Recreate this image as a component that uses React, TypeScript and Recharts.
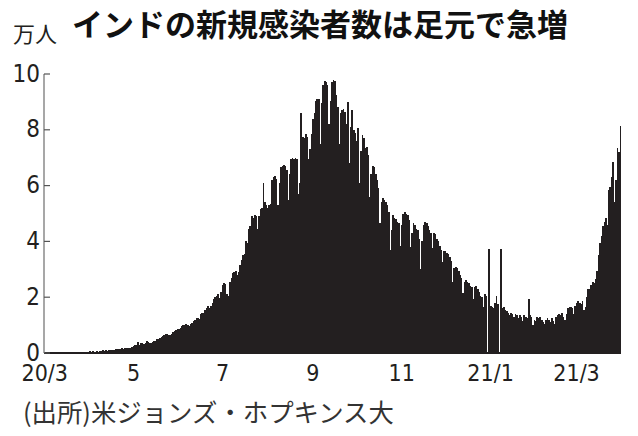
import { Bar, BarChart, XAxis, YAxis } from "recharts"

// 日別新規感染者数(万人) 2020/3/1〜2021/3/31
const mar20 = [0, 0, 0, 0, 0, 0, 0, 0, 0, 0, 0, 0, 0, 0, 0, 0, 0, 0, 0.01, 0.01, 0.01, 0.01, 0.01, 0.01, 0.01, 0.01, 0.02, 0.01, 0.01, 0.02, 0.03]
const apr20 = [0.06, 0.05, 0.06, 0.05, 0.05, 0.07, 0.05, 0.06, 0.06, 0.09, 0.08, 0.09, 0.08, 0.1, 0.1, 0.12, 0.1, 0.12, 0.15, 0.14, 0.16, 0.14, 0.17, 0.16, 0.19, 0.19, 0.17, 0.19, 0.19, 0.2]
const may20 = [0.24, 0.28, 0.27, 0.39, 0.3, 0.36, 0.36, 0.34, 0.35, 0.43, 0.38, 0.36, 0.37, 0.4, 0.42, 0.42, 0.5, 0.49, 0.52, 0.57, 0.62, 0.66, 0.68, 0.69, 0.66, 0.63, 0.69, 0.74, 0.79, 0.82, 0.85]
const jun20 = [0.86, 0.9, 0.96, 1.0, 1.02, 1.04, 1.0, 0.98, 1.05, 1.08, 1.15, 1.18, 1.26, 1.25, 1.22, 1.38, 1.45, 1.42, 1.55, 1.62, 1.68, 1.6, 1.7, 1.8, 1.95, 2.0, 2.05, 2.1, 1.98, 2.2]
const jul20 = [2.45, 2.5, 2.48, 2.1, 2.05, 2.55, 2.7, 2.85, 2.9, 2.95, 2.8, 2.9, 3.15, 3.35, 3.5, 3.55, 4.0, 3.95, 4.45, 4.55, 4.9, 4.85, 4.95, 4.9, 4.45, 4.9, 5.15, 5.2, 6.1, 5.4, 5.3]
const aug20 = [5.2, 5.3, 5.35, 6.2, 6.3, 6.35, 6.25, 5.3, 6.1, 6.65, 6.7, 6.75, 6.7, 6.55, 5.5, 6.4, 6.95, 7.0, 6.95, 7.0, 6.95, 5.7, 6.1, 8.6, 7.75, 7.7, 7.85, 7.75, 6.95, 7.3, 7.85]
const sep20 = [8.4, 8.6, 9.05, 9.1, 9.1, 7.5, 8.95, 9.6, 9.75, 9.7, 9.6, 8.2, 9.05, 9.7, 9.8, 9.75, 9.25, 8.8, 7.5, 8.6, 8.7, 8.75, 8.65, 8.2, 9.0, 6.8, 8.1, 8.7, 8.0, 7.9]
const oct20 = [7.6, 8.05, 6.1, 7.25, 7.8, 7.7, 7.35, 7.4, 7.1, 5.6, 6.4, 6.7, 6.65, 6.4, 6.2, 5.9, 4.65, 5.4, 5.55, 5.5, 5.4, 5.3, 5.05, 3.7, 4.4, 4.95, 4.85, 4.8, 4.7, 4.65, 3.85]
const nov20 = [4.6, 5.0, 5.05, 5.0, 4.95, 4.75, 3.8, 4.3, 4.65, 4.6, 4.45, 4.4, 4.1, 3.0, 4.0, 4.6, 4.7, 4.65, 4.55, 4.4, 4.3, 3.75, 4.3, 4.25, 4.1, 4.0, 3.85, 3.7, 3.25, 3.65]
const dec20 = [3.65, 3.6, 3.55, 3.45, 3.3, 2.55, 3.05, 3.1, 3.05, 2.95, 2.8, 2.7, 2.15, 2.55, 2.6, 2.55, 2.5, 2.4, 2.35, 1.95, 2.35, 2.4, 2.3, 2.2, 2.05, 2.0, 1.65, 2.1, 2.05, 0, 3.72]
const jan21 = [1.7, 1.65, 1.6, 1.8, 2.05, 1.75, 0, 3.72, 1.6, 1.65, 1.55, 1.5, 1.45, 1.35, 1.45, 1.4, 1.3, 1.4, 1.35, 1.25, 1.35, 1.3, 1.15, 1.35, 1.3, 1.25, 1.92, 1.35, 1.3, 1.0, 1.2]
const feb21 = [1.15, 1.3, 1.25, 1.3, 1.2, 1.1, 1.05, 1.2, 1.25, 1.2, 1.1, 1.25, 1.15, 1.05, 1.3, 1.35, 1.4, 1.35, 1.45, 1.3, 1.2, 1.4, 1.6, 1.65, 1.65, 1.6, 1.4, 1.7]
const mar21 = [1.8, 1.85, 1.8, 1.75, 1.85, 1.55, 1.65, 2.0, 2.3, 2.3, 2.45, 2.55, 2.5, 2.65, 2.95, 3.5, 3.95, 4.2, 4.55, 4.7, 4.85, 4.6, 5.85, 5.95, 6.3, 6.85, 5.4, 6.2, 7.35, 7.2, 8.15]

const daily = [...mar20, ...apr20, ...may20, ...jun20, ...jul20, ...aug20, ...sep20, ...oct20, ...nov20, ...dec20, ...jan21, ...feb21, ...mar21]

const tickDates = ["2020-03-01", "2020-05-01", "2020-07-01", "2020-09-01", "2020-11-01", "2021-01-01", "2021-03-01"]
const tickLabels = ["20/3", "5", "7", "9", "11", "21/1", "21/3"]
const yTicks = [0, 2, 4, 6, 8, 10]

const start = Date.UTC(2020, 2, 1)
const data = daily.map((v, i) => ({
  date: new Date(start + i * 86400000).toISOString().slice(0, 10),
  v,
}))

const W = 638
const H = 436
const M = { top: 74, right: 17, left: 0, bottom: 43 }
const Y_W = 44
// band width of one day, so neighbouring bars touch
const band = (W - M.left - M.right - Y_W) / daily.length

const numFont = "'Liberation Sans Narrow', 'DejaVu Sans Condensed', sans-serif"
const jpFont = "'Noto Sans CJK JP', sans-serif"
const ink = "#231f20"

function YTick({ x, y, payload }: any) {
  return (
    <g>
      <line x1={x} x2={x + 6} y1={y} y2={y} stroke="#555" strokeWidth={1.2} />
      <text x={x - 4} y={y - 1} dy="0.36em" textAnchor="end" fontFamily={numFont} fontSize={24} fill={ink}>
        {payload.value}
      </text>
    </g>
  )
}

function DayBar({ x, y, height }: any) {
  if (!height || height <= 0) return null
  return <rect x={x} y={y} width={band + 0.3} height={height} fill={ink} shapeRendering="crispEdges" />
}

export default function App() {
  return (
    <div style={{ position: "absolute", left: 0, top: 0, width: W, height: H, background: "#fff" }}>
      <div style={{ position: "absolute", left: 13, top: 21, fontFamily: jpFont, fontSize: 22, color: ink, lineHeight: 1 }}>
        万人
      </div>
      <div style={{ position: "absolute", left: 72, top: 7, fontFamily: jpFont, fontSize: 31, fontWeight: 700, color: "#111", lineHeight: 1 }}>
        インドの新規感染者数は足元で急増
      </div>
      <BarChart width={W} height={H} data={data} margin={M} barCategoryGap={0} barGap={0}>
        <XAxis
          dataKey="date"
          ticks={tickDates}
          interval={0}
          tickLine={false}
          tickSize={0}
          tickMargin={12}
          height={40}
          axisLine={{ stroke: ink, strokeWidth: 2 }}
          tickFormatter={(d: string) => tickLabels[tickDates.indexOf(d)]}
          tick={{ fontSize: 23, fill: ink, fontFamily: numFont }}
        />
        <YAxis
          width={Y_W}
          domain={[0, 10]}
          ticks={yTicks}
          tickLine={false}
          tickSize={0}
          tickMargin={0}
          axisLine={{ stroke: "#8a8a8a", strokeWidth: 1.5 }}
          tick={<YTick />}
        />
        <Bar dataKey="v" fill={ink} shape={<DayBar />} isAnimationActive={false} />
      </BarChart>
      <div style={{ position: "absolute", left: 23, top: 399, fontFamily: jpFont, fontSize: 25.4, color: "#333", lineHeight: 1 }}>
        (出所)米ジョンズ・ホプキンス大
      </div>
    </div>
  )
}
